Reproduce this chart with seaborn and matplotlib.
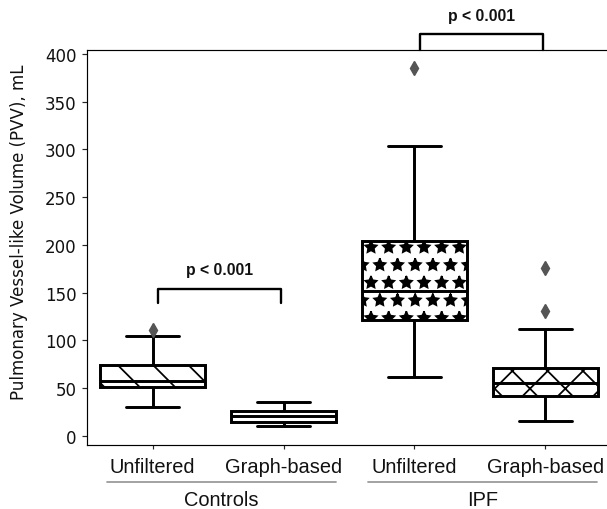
import numpy as np
import pandas as pd
import seaborn as sns
import matplotlib.pyplot as plt


# values (mL)
groups = ["Controls", "Controls", "IPF", "IPF"]
methods = ["Unfiltered", "Graph-based", "Unfiltered", "Graph-based"]
whisker_low = [30, 10, 62, 16]
q1 = [51, 15, 121, 42]
median = [58, 21, 152, 55]
q3 = [74, 26, 204, 71]
whisker_high = [105, 36, 304, 112]
outliers = [[111], [], [385], [131, 176]]
hatches = ["\\", ".", "*", "x"]

# rebuild each box from its summary values (repeats keep the quartiles exact)
rows = []
for g, m, lo, a, md, b, hi, out in zip(groups, methods, whisker_low, q1, median,
                                       q3, whisker_high, outliers):
    rep = len(out) + 1
    vals = [lo] + [a] * rep + [md] * rep + [b] * rep + [hi] + out
    for v in vals:
        rows.append({"key": g + " " + m, "PVV": v})
df = pd.DataFrame(rows)
order = [g + " " + m for g, m in zip(groups, methods)]

sns.set_style("ticks")
plt.rcParams["font.family"] = ["DejaVu Sans"]
plt.rcParams["hatch.linewidth"] = 1.2

dpi = 106
fig = plt.figure(figsize=(607 / dpi, 510 / dpi), dpi=dpi)
ax = fig.add_axes([87 / 607, 64 / 510, 524 / 607, 395 / 510])

sns.boxplot(data=df, x="key", y="PVV", order=order, color="white",
            linecolor="black", linewidth=2, width=0.8, ax=ax,
            flierprops=dict(marker="d", markersize=7, markerfacecolor="#555555",
                            markeredgecolor="#555555"))

for patch, h in zip(ax.patches, hatches):
    patch.set_hatch(h)
    patch.set_edgecolor("black")

ax.set_xlim(-0.5, 3.5)
ax.set_ylim(-9.5, 404)
ax.set_yticks(range(0, 401, 50))
ax.set_xticks(range(4))
ax.set_xticklabels(methods, family="Liberation Sans", fontsize=13.6, color="#111111")
ax.tick_params(axis="y", labelsize=11.3, labelcolor="#111111", length=3.5, pad=3.5)
ax.tick_params(axis="x", length=3, pad=5)
ax.set_xlabel("")
ax.set_ylabel("Pulmonary Vessel-like Volume (PVV), mL", fontsize=11.3,
              color="#111111")
ax.yaxis.set_label_coords(-0.112, 0.542)
for s in ax.spines.values():
    s.set_color("black")

# group labels under the categories
tr = ax.get_xaxis_transform()
for name, x0, x1 in [("Controls", -0.35, 1.40), ("IPF", 1.645, 3.39)]:
    ax.plot([x0, x1], [-0.094, -0.094], color="#999999", lw=1.2,
            transform=tr, clip_on=False)
    ax.text((x0 + x1) / 2, -0.137, name, transform=tr, ha="center", va="center",
            family="Liberation Sans", fontsize=13.6, color="#111111")

# significance brackets
brackets = [(0.04, 0.98, 139, 154, 174), (2.04, 2.98, 404, 421, 440)]
for x0, x1, yb, yt, ytxt in brackets:
    ax.plot([x0, x0, x1, x1], [yb, yt, yt, yb], color="black", lw=1.6,
            clip_on=False, solid_joinstyle="round")
    ax.text((x0 + x1) / 2, ytxt, "p < 0.001", ha="center", va="center",
            family="Liberation Sans", fontweight="bold", fontsize=10.7,
            color="#111111", clip_on=False)

fig.savefig("out.png", dpi=dpi)
